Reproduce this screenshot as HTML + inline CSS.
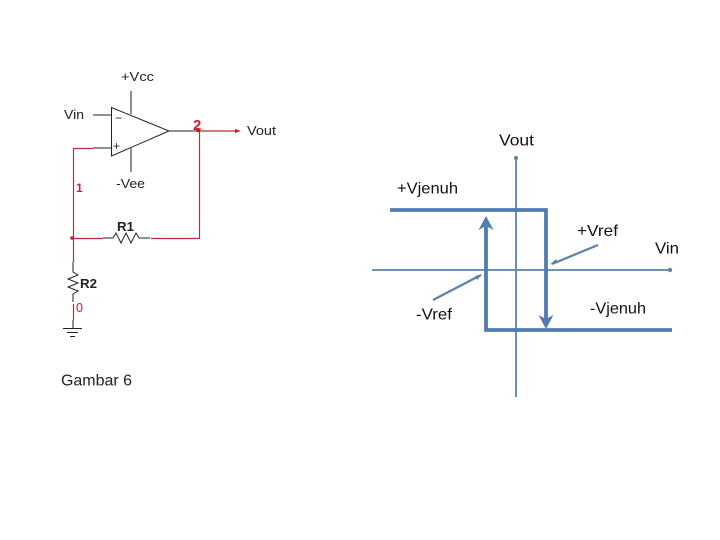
<!DOCTYPE html>
<html>
<head>
<meta charset="utf-8">
<style>
html,body{margin:0;padding:0;background:#fff}
svg{display:block}
text{font-family:"Liberation Sans",sans-serif}
</style>
</head>
<body>
<svg width="720" height="540" viewBox="0 0 720 540" xmlns="http://www.w3.org/2000/svg">
<rect width="720" height="540" fill="#fff"/>
<g fill="none" stroke="#222" stroke-width="1">
<polygon points="111.5,107.5 111.5,156 169,131"/>
<path d="M93 115H111M93 148H111M131 91V114M131 148V172M169 131H192"/>
<path d="M103 238H113L116 233L121 243L126 233L131 243L136 233L139 238H150"/>
<path d="M73 262V272L78 275L68 279L78 283L68 287L78 291L73 294V302M73 320V328"/>
<path d="M63 328.500H82M67 332.500H78M70 336.500H75"/>
</g>
<g fill="none" stroke="#b5303a" stroke-width="1.200">
<path d="M93 148.500H73.500V262M73 238.500H103M151 238.500H199.500V131M191 131H238M73.500 304V320"/>
</g>
<circle cx="72" cy="238" r="1.800" fill="#c02020"/>
<circle cx="198" cy="130" r="2.200" fill="#c02020"/>
<path d="M235 129L241 131L235 133Z" fill="#c02020"/>
<g fill="#222" font-size="13">
<text x="121" y="81" textLength="33" lengthAdjust="spacingAndGlyphs">+Vcc</text>
<text x="64" y="119" textLength="20" lengthAdjust="spacingAndGlyphs">Vin</text>
<text x="247" y="135" textLength="29" lengthAdjust="spacingAndGlyphs">Vout</text>
<text x="116" y="188" textLength="29" lengthAdjust="spacingAndGlyphs">-Vee</text>
<text x="117" y="231" textLength="17" lengthAdjust="spacingAndGlyphs" font-size="13" font-weight="bold">R1</text>
<text x="80" y="288" textLength="17" lengthAdjust="spacingAndGlyphs" font-size="13" font-weight="bold">R2</text>
<text x="115" y="122" font-size="12">−</text>
<text x="113" y="150" font-size="12">+</text>
</g>
<g fill="#c8202c" font-weight="bold">
<text x="76" y="192" font-size="12">1</text>
<text x="193" y="130" font-size="15">2</text>
<text x="76" y="312" font-size="13" font-weight="normal" textLength="7" lengthAdjust="spacingAndGlyphs">0</text>
</g>
<text x="61" y="385.500" font-size="16" textLength="71" lengthAdjust="spacing" fill="#222">Gambar 6</text>
<g stroke="#5b82a8" stroke-width="1.800" fill="none">
<path d="M516 157V397"/>
<path d="M372 270H671"/>
<path d="M598 245L552 264" stroke-width="2.200"/>
<path d="M433 300L481 275" stroke-width="2.200"/>
</g>
<circle cx="516" cy="158" r="2" fill="#5b82a8"/>
<circle cx="670" cy="270" r="2.200" fill="#5b82a8"/>
<path d="M550 264.500L556 259L558 263Z" fill="#5b82a8"/>
<path d="M482 274.500L475 276L477 280Z" fill="#5b82a8"/>
<g stroke="#4f7cb3" stroke-width="3.800" fill="none">
<path d="M390 210H546V320"/>
<path d="M672 330H486V226"/>
</g>
<path d="M486 216L493.500 230L486 226L478.500 230Z" fill="#4f7cb3"/>
<path d="M546 329L538.500 315L546 319L553.500 315Z" fill="#4f7cb3"/>
<g fill="#111" font-size="16">
<text x="499" y="145.500" textLength="35" lengthAdjust="spacingAndGlyphs">Vout</text>
<text x="397" y="193.500" textLength="61" lengthAdjust="spacingAndGlyphs">+Vjenuh</text>
<text x="577" y="236" textLength="41" lengthAdjust="spacingAndGlyphs">+Vref</text>
<text x="655" y="253.500" textLength="24" lengthAdjust="spacingAndGlyphs">Vin</text>
<text x="416" y="319.500" textLength="36" lengthAdjust="spacingAndGlyphs">-Vref</text>
<text x="590" y="313.500" textLength="56" lengthAdjust="spacingAndGlyphs">-Vjenuh</text>
</g>
</svg>
</body>
</html>
